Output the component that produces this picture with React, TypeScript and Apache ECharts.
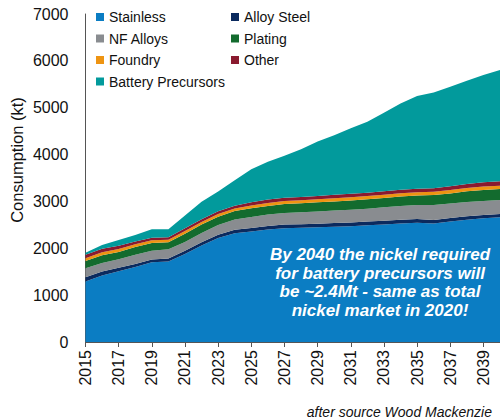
import React, { useEffect, useRef } from "react";
import * as echarts from "echarts";

const years = [
  "2015","2016","2017","2018","2019","2020","2021","2022","2023","2024","2025","2026","2027",
  "2028","2029","2030","2031","2032","2033","2034","2035","2036","2037","2038","2039","2040",
];
const stainless = [1290,1420,1510,1600,1700,1720,1880,2060,2220,2320,2360,2400,2430,2440,2450,2460,2470,2490,2510,2530,2545,2530,2570,2610,2640,2660];
const alloySteel = [90,85,75,65,60,60,70,70,70,75,75,75,75,75,75,80,80,80,80,80,80,75,75,75,70,70];
const nfAlloys = [195,180,180,195,190,200,185,195,205,220,235,245,250,255,260,265,270,275,285,295,300,320,310,305,300,300];
const plating = [155,165,155,165,165,150,175,180,180,180,185,185,190,190,195,195,200,200,200,200,200,210,215,225,235,235];
const foundry = [60,65,65,60,55,50,60,55,55,55,60,62,62,65,65,68,70,70,70,70,72,72,72,72,72,72];
const other = [70,75,70,60,55,55,60,60,60,60,70,72,72,72,72,72,72,72,72,72,72,75,80,85,90,92];
const battery = [45,80,120,140,180,170,270,375,420,540,700,810,895,1015,1160,1275,1400,1515,1675,1845,1980,2045,2125,2205,2290,2375];

const seriesDefs = [
  { name: "Stainless", data: stainless, color: "#0B7DC3" },
  { name: "Alloy Steel", data: alloySteel, color: "#0B2A5E" },
  { name: "NF Alloys", data: nfAlloys, color: "#898C90" },
  { name: "Plating", data: plating, color: "#136B2E" },
  { name: "Foundry", data: foundry, color: "#EE9412" },
  { name: "Other", data: other, color: "#8A1A2F" },
  { name: "Battery Precursors", data: battery, color: "#029A9C" },
];

const FONT = '"Liberation Sans", Arial, sans-serif';

export default function App() {
  const ref = useRef<HTMLDivElement>(null);
  useEffect(() => {
    if (!ref.current) return;
    const chart = echarts.init(ref.current, null, { renderer: "svg" });
    const legendCommon = {
      orient: "vertical",
      top: 9,
      padding: 0,
      icon: "rect",
      itemWidth: 8,
      itemHeight: 8,
      itemGap: 5.5,
      selectedMode: false,
      textStyle: { fontSize: 14, color: "#111", fontFamily: FONT, lineHeight: 16 },
    };
    chart.setOption({
      animation: false,
      textStyle: { fontFamily: FONT },
      grid: { left: 85.5, right: -2, top: 14, bottom: 78 },
      legend: [
        { ...legendCommon, left: 96, data: ["Stainless", "NF Alloys", "Foundry", "Battery Precursors"] },
        { ...legendCommon, left: 231, data: ["Alloy Steel", "Plating", "Other"] },
      ],
      xAxis: {
        type: "category",
        data: years,
        boundaryGap: false,
        axisLine: { lineStyle: { color: "#555", width: 1 } },
        axisTick: { show: true, interval: 1, length: 5, lineStyle: { color: "#555" } },
        axisLabel: { interval: 1, rotate: 90, margin: 8, fontSize: 16, color: "#111", fontFamily: FONT },
        splitLine: { show: false },
      },
      yAxis: {
        type: "value",
        min: 0,
        max: 7000,
        interval: 1000,
        axisLine: { show: true, lineStyle: { color: "#555", width: 1 } },
        axisTick: { show: false },
        axisLabel: {
          margin: 17,
          fontSize: 16,
          color: "#111",
          fontFamily: FONT,
          formatter: (v: number) => String(v),
        },
        splitLine: { show: false },
      },
      series: seriesDefs.map((s) => ({
        name: s.name,
        type: "line",
        stack: "total",
        data: s.data,
        symbol: "none",
        color: s.color,
        lineStyle: { width: 0 },
        areaStyle: { color: s.color, opacity: 1 },
        emphasis: { disabled: true },
      })),
      graphic: [
        {
          type: "text",
          x: 17,
          y: 160,
          rotation: Math.PI / 2,
          style: {
            text: "Consumption (kt)",
            font: `16.5px ${FONT}`,
            fill: "#111",
            align: "center",
            verticalAlign: "middle",
          },
        },
        {
          type: "text",
          x: 380,
          y: 282.5,
          z: 100,
          style: {
            text: "By 2040 the nickel required\nfor battery precursors will\nbe ~2.4Mt - same as total\nnickel market in 2020!",
            font: `italic bold 17px ${FONT}`,
            fill: "#ffffff",
            align: "center",
            verticalAlign: "middle",
            lineHeight: 18.5,
          },
        },
        {
          type: "text",
          right: 8,
          top: 405,
          style: {
            text: "after source Wood Mackenzie",
            font: `italic 14px ${FONT}`,
            fill: "#111",
          },
        },
      ],
    });
    return () => chart.dispose();
  }, []);
  return (
    <div
      ref={ref}
      style={{ position: "fixed", left: 0, top: 0, width: 500, height: 420, background: "#fff" }}
    />
  );
}
